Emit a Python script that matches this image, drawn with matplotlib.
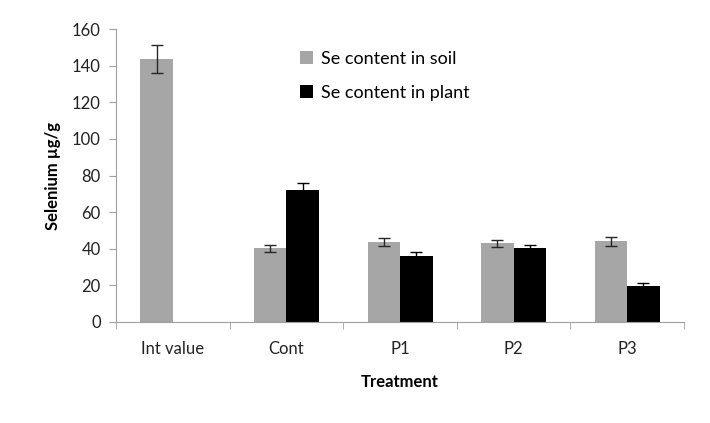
import numpy as np
import matplotlib.pyplot as plt

treatments = ["Int value", "Cont", "P1", "P2", "P3"]
soil = [143.5, 40.2, 43.5, 43.0, 44.0]
soil_err = [7.5, 2.1, 2.2, 1.8, 2.3]
plant = [0, 72.3, 36.2, 40.2, 19.8]
plant_err = [0, 3.5, 2.0, 2.0, 1.5]

plt.rcParams["font.family"] = ["Lato", "DejaVu Sans"]

fig = plt.figure(figsize=(7.1, 4.23), dpi=100)
ax = fig.add_axes([0.1634, 0.2388, 0.8, 0.6926])

x = np.arange(len(treatments))
w = 0.286
ax.bar(x - w / 2, soil, w, color="#a6a6a6", label="Se content in soil",
       yerr=soil_err, error_kw=dict(ecolor="#262626", elinewidth=1, capsize=4, capthick=1))
plant_mask = np.array(plant) > 0
ax.bar(x[plant_mask] + w / 2, np.array(plant)[plant_mask], w, color="black",
       label="Se content in plant",
       yerr=np.array(plant_err)[plant_mask],
       error_kw=dict(ecolor="black", elinewidth=1, capsize=4, capthick=1))

ax.set_xlim(-0.5, len(treatments) - 0.5)
ax.set_ylim(0, 160)
ax.set_yticks(np.arange(0, 161, 20))
ax.set_xticks(x)
ax.set_xticklabels(treatments)
ax.set_xticks(np.arange(-0.5, len(treatments), 1), minor=True)
ax.tick_params(axis="x", which="major", length=0, pad=14, labelsize=12, labelcolor="#222222")
ax.tick_params(axis="x", which="minor", length=5, color="#a0a0a0", direction="out")
ax.tick_params(axis="y", length=5, color="#a0a0a0", labelsize=12, labelcolor="#222222", pad=6)

for s in ("top", "right"):
    ax.spines[s].set_visible(False)
for s in ("left", "bottom"):
    ax.spines[s].set_color("#a0a0a0")

ax.set_xlabel("Treatment", fontsize=12, fontweight="bold", labelpad=12)
ax.set_ylabel("Selenium µg/g", fontsize=12, fontweight="bold", labelpad=8)

ax.legend(loc="upper left", bbox_to_anchor=(0.295, 0.98), frameon=False, fontsize=13,
          handlelength=0.75, handleheight=0.75, handletextpad=0.4, labelspacing=1.0)

fig.savefig("out.png", dpi=100)
